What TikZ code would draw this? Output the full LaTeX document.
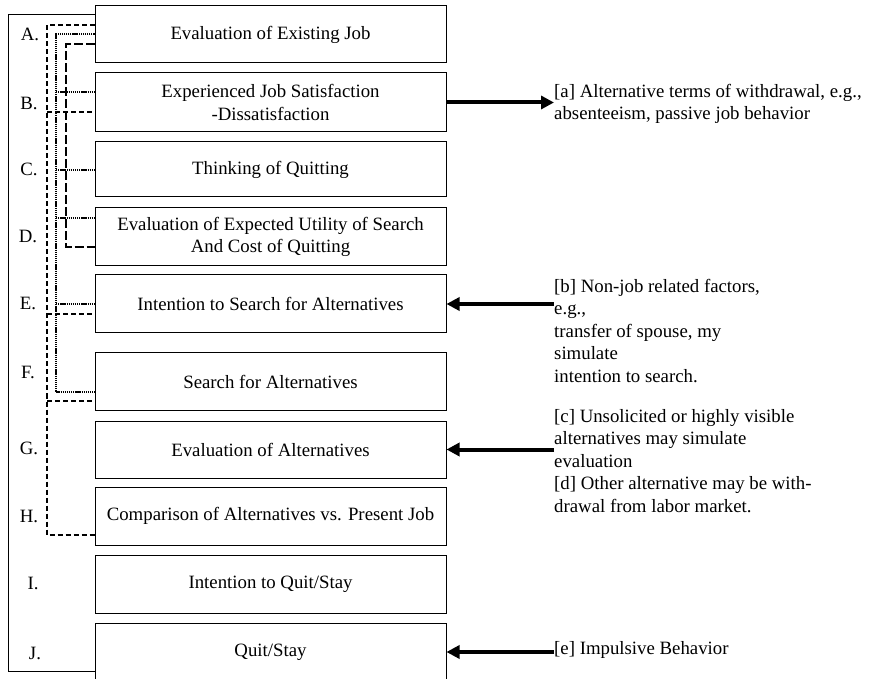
\documentclass[tikz,border=0pt]{standalone}
\usepackage{fontspec}
\setmainfont{Liberation Serif}
\usetikzlibrary{arrows.meta}
\begin{document}
\begin{tikzpicture}[x=1pt,y=-1pt,
  every node/.style={font=\fontsize{18.8}{22.5}\selectfont},
  stage/.style={draw, line width=1pt, minimum width=351pt, inner sep=0pt, align=center},
  tag/.style={inner sep=0pt},
  note/.style={inner sep=0pt, align=left, anchor=north west},
  linkA/.style={line width=1.8pt, dash pattern=on 5pt off 3pt},
  linkB/.style={line width=1.7pt, dash pattern=on 1.3pt off 0.8pt},
  linkC/.style={line width=1.8pt, dash pattern=on 9pt off 3pt},
  push/.style={line width=4pt, -{Triangle[length=13pt,width=13pt]}},
]
\useasboundingbox (0,0) rectangle (871,679);
\clip (0,0) rectangle (871,679);

% stages of the withdrawal process
\node[stage, minimum height=57pt] (a) at (270.5,34.5) {Evaluation of Existing Job};
\node[stage, minimum height=59pt] (b) at (270.5,102.5) {Experienced Job Satisfaction\\-Dissatisfaction};
\node[stage, minimum height=55pt] (c) at (270.5,169.5) {Thinking of Quitting};
\node[stage, minimum height=58pt] (d) at (270.5,237) {Evaluation of Expected Utility of Search\\And Cost of Quitting};
\node[stage, minimum height=58pt] (e) at (270.5,304) {Intention to Search for Alternatives};
\node[stage, minimum height=57pt] (f) at (270.5,381.5) {Search for Alternatives};
\node[stage, minimum height=57pt] (g) at (270.5,449.5) {Evaluation of Alternatives};
\node[stage, minimum height=58pt] (h) at (270.5,516) {Comparison of Alternatives vs. Present Job};
\node[stage, minimum height=58pt] (i) at (270.5,584) {Intention to Quit/Stay};
\node[stage, minimum height=58pt] (j) at (270.5,652) {Quit/Stay};

% letters
\node[tag] (la) at (30,34) {A.};
\node[tag] (lb) at (29,103) {B.};
\node[tag] (lc) at (29,169) {C.};
\node[tag] (ld) at (28,236) {D.};
\node[tag] (le) at (28,303) {E.};
\node[tag] (lf) at (28,372) {F.};
\node[tag] (lg) at (29,448) {G.};
\node[tag] (lh) at (29,516) {H.};
\node[tag] (li) at (33,583) {I.};
\node[tag] (lj) at (35,653) {J.};

% outer feedback frame
\draw[line width=1pt] (a.west |- 0,15) -| (8,671) -- (j.west |- 0,671);

% spines of the bracket connectors
\coordinate (sA) at (47,0);
\coordinate (sB) at (56,0);
\coordinate (sC) at (66,0);

\draw[linkA] (a.west |- 0,25) -- (sA |- 0,25) -- (sA |- 0,535) -- (h.west |- 0,535);
\foreach \yy/\n in {112/b,314/e,401/f}
  \draw[linkA] (sA |- 0,\yy) -- (\n.west |- 0,\yy);

\draw[linkB] (a.west |- 0,34) -- (sB |- 0,34) -- (sB |- 0,392) -- (f.west |- 0,392);
\foreach \yy/\n in {92/b,170/c,218/d,304/e}
  \draw[linkB] (sB |- 0,\yy) -- (\n.west |- 0,\yy);

\draw[linkC] (a.west |- 0,44) -- (sC |- 0,44) -- (sC |- 0,247) -- (d.west |- 0,247);

% side notes
\node[note] (na) at (554,84) {[a] Alternative terms of withdrawal, e.g.,\\absenteeism, passive job behavior};
\node[note] (nb) at (554,279) {[b] Non-job related factors,\\e.g.,\\transfer of spouse, my\\simulate\\intention to search.};
\node[note] (nc) at (554,409) {[c] Unsolicited or highly visible\\alternatives may simulate\\evaluation\\{[d] Other alternative may be with-}\\drawal from labor market.};
\node[tag, anchor=west] (ne) at (554,650) {[e] Impulsive Behavior};

% influence arrows
\draw[push] (b.east) -- (b.east -| na.west);
\draw[push] (e.east -| nb.west) -- (e.east);
\draw[push] (g.east -| nc.west) -- (g.east);
\draw[push] (j.east -| ne.west) -- (j.east);
\end{tikzpicture}
\end{document}
